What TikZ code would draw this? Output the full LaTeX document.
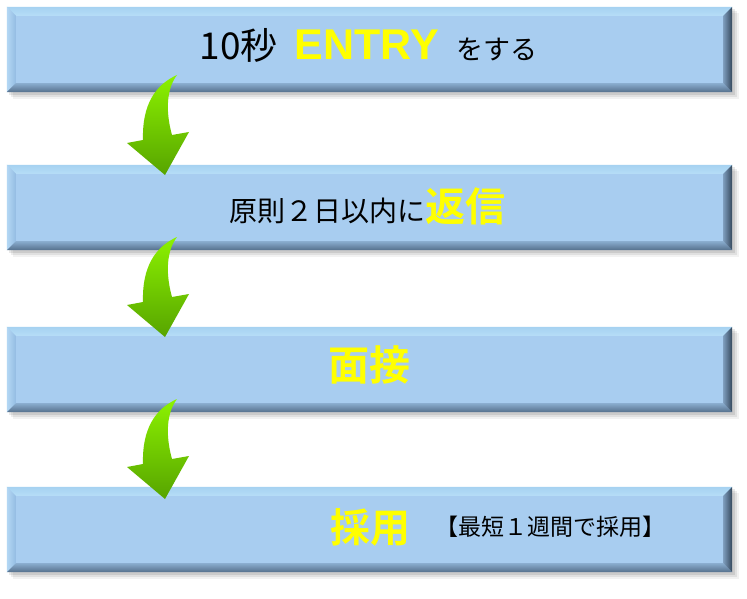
\documentclass[tikz,border=0pt]{standalone}
\usepackage{fontspec}
\newfontfamily\cjk[BoldFont={Noto Sans CJK JP Bold}]{Noto Sans CJK JP}
\newfontfamily\latinbold{Liberation Sans}
\usetikzlibrary{calc}
\definecolor{face}{HTML}{A8CDF0}
\definecolor{topa}{HTML}{A6D2F1}
\definecolor{topb}{HTML}{DDF5FD}
\definecolor{topc}{HTML}{B6DDF7}
\definecolor{lefta}{HTML}{B4D8F4}
\definecolor{leftb}{HTML}{94BCE2}
\definecolor{bota}{HTML}{8AADCF}
\definecolor{botb}{HTML}{55708C}
\definecolor{righta}{HTML}{7E9DBD}
\definecolor{rightb}{HTML}{34475B}
\definecolor{ytext}{HTML}{FFFF00}
\definecolor{arrtop}{HTML}{8CF200}
\definecolor{arrbot}{HTML}{57A400}
\begin{document}
\begin{tikzpicture}[x=1pt,y=-1pt,
  boxnode/.style={rectangle,minimum width=725pt,minimum height=85pt,inner sep=0pt},
  txt/.style={inner sep=0pt,font=\cjk},
  arrowshape/.style={top color=arrtop,bottom color=arrbot,draw=none}]
\useasboundingbox (0,0) rectangle (747,599);
\fill[white] (0,0) rectangle (747,599);
\node[boxnode] (b1) at (369.5,49.5) {};
\node[boxnode] (b2) at (369.5,207.5) {};
\node[boxnode] (b3) at (369.5,369.5) {};
\node[boxnode] (b4) at (369.5,529.5) {};
\foreach \b in {b1,b2,b3,b4}{
  % soft shadow
  \foreach \s/\o in {7/0.05,5/0.07,3/0.09}{
    \fill[black,opacity=\o] ([shift={(\s pt,-\s pt)}]\b.north west) ++(-1pt,1pt)
      rectangle ([shift={(\s pt,-\s pt)}]\b.south east);
  }
  \fill[face] (\b.north west) rectangle (\b.south east);
  % top bevel
  \shade[top color=topa,middle color=topb,bottom color=topc]
    (\b.north west) -- (\b.north east) -- ([shift={(-9pt,-9pt)}]\b.north east)
    -- ([shift={(9pt,-9pt)}]\b.north west) -- cycle;
  % left bevel
  \shade[left color=lefta,right color=leftb]
    (\b.north west) -- ([shift={(9pt,-9pt)}]\b.north west)
    -- ([shift={(9pt,9pt)}]\b.south west) -- (\b.south west) -- cycle;
  % bottom bevel
  \shade[top color=bota,bottom color=botb]
    (\b.south west) -- ([shift={(9pt,9pt)}]\b.south west)
    -- ([shift={(-9pt,9pt)}]\b.south east) -- (\b.south east) -- cycle;
  % right bevel
  \shade[left color=righta,right color=rightb]
    (\b.north east) -- (\b.south east) -- ([shift={(-9pt,9pt)}]\b.south east)
    -- ([shift={(-9pt,-9pt)}]\b.north east) -- cycle;
}
% texts
\node[txt,anchor=base] (t1) at (368.5,60)
  {\fontsize{37pt}{40pt}\selectfont 10秒\hspace{17pt}{\color{ytext}\latinbold\fontsize{43pt}{46pt}\selectfont\bfseries ENTRY}\hspace{17pt}\fontsize{27pt}{30pt}\selectfont をする};
\node[txt,anchor=base] (t2) at (367.5,221)
  {\fontsize{28pt}{30pt}\selectfont 原則２日以内に{\color{ytext}\fontsize{40pt}{42pt}\selectfont\bfseries 返信}};
\node[txt,anchor=base,text=ytext] (t3) at (369,380)
  {\fontsize{41pt}{44pt}\selectfont\bfseries 面接};
\node[txt,anchor=base,text=ytext] (t4a) at (370,542)
  {\fontsize{40pt}{44pt}\selectfont\bfseries 採用};
\node[txt,anchor=base] (t4b) at (550,535.5)
  {\fontsize{23pt}{25pt}\selectfont 【最短１週間で採用】};
% curved arrows
\foreach \dy in {0,162,324}{
  \begin{scope}[shift={(0,\dy)}]
    \shade[arrowshape]
      (177,75) .. controls (155,85) and (142,105) .. (143,140)
      -- (127,143) -- (165,175) -- (189,132) -- (172,135)
      .. controls (165,110) and (167,88) .. (177,75) -- cycle;
  \end{scope}
}
\end{tikzpicture}
\end{document}
